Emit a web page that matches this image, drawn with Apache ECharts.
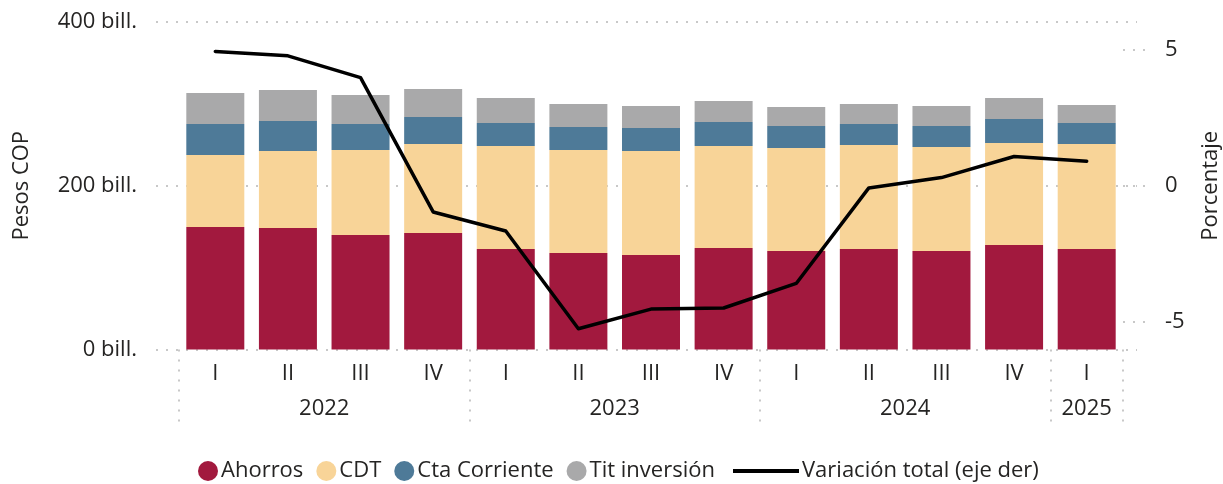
<!DOCTYPE html>
<html>
<head>
<meta charset="utf-8">
<script src="https://cdn.jsdelivr.net/npm/echarts@6/dist/echarts.min.js"></script>
<style>
html,body{margin:0;padding:0;background:#fff;}
#chart{width:1223px;height:484px;}
</style>
</head>
<body>
<div id="chart"></div>
<script>
var quarters = ['I','II','III','IV','I','II','III','IV','I','II','III','IV','I'];
var years = ['2022','2023','2024','2025'];
var ahorros = [149.6,148.4,139.9,142.3,122.8,117.9,115.4,124.0,120.3,122.8,120.3,127.6,122.8];
var cdt = [88.0,94.1,103.8,108.7,125.8,125.8,127.0,124.6,125.8,127.0,127.0,124.6,128.2];
var ctaCorriente = [37.8,36.6,31.7,33.0,28.1,28.1,28.1,29.3,26.9,25.6,25.7,29.3,25.7];
var titInversion = [37.9,37.9,35.4,34.2,30.5,28.1,26.9,25.6,23.2,24.5,24.4,25.7,21.9];
var variacion = [4.92,4.76,3.96,-0.96,-1.66,-5.24,-4.52,-4.48,-3.58,-0.08,0.30,1.07,0.90];

var FONT = '"Open Sans", "Noto Sans", sans-serif';
var FS = 22;
var TXT = '#252423';
var DOT = {color:'#c8c8c8', width:2, type:[2,8]};
var yearCenters = [2, 6, 10, 12.5];
var yearBounds = [0, 4, 8, 12, 13];

var chart = echarts.init(document.getElementById('chart'));
chart.setOption({
  animation: false,
  textStyle: {fontFamily: FONT, color: TXT},
  grid: [
    {left:179, right:100, top:22, bottom:134.5, containLabel:false, outerBoundsMode:'none'},
    {left:156, right:86, top:22, bottom:134.5, containLabel:false, outerBoundsMode:'none'}
  ],
  legend: [
    {
      data: ['Ahorros','CDT','Cta Corriente','Tit inversión'],
      left: 193, top: 455, icon: 'circle', itemWidth: 20, itemHeight: 20, itemGap: 13,
      textStyle: {fontFamily: FONT, fontSize: FS, color: TXT, padding:[0,0,0,-2]}
    },
    {
      data: [{name:'Variación total (eje der)', icon:'rect', itemStyle:{color:'#000'}}],
      left: 728, top: 455, itemWidth: 66, itemHeight: 4,
      textStyle: {fontFamily: FONT, fontSize: FS, color: TXT, padding:[0,0,0,-2]}
    }
  ],
  xAxis: [
    {
      type:'category', data: quarters, gridIndex:0,
      axisLine:{show:false, onZero:false}, axisTick:{show:false},
      axisLabel:{fontFamily:FONT, fontSize:FS, color:TXT, margin:13}
    },
    {
      type:'value', gridIndex:0, min:0, max:13, position:'bottom',
      axisLine:{show:false, onZero:false}, splitLine:{show:false},
      axisTick:{show:true, customValues: yearBounds, length:78, lineStyle:DOT},
      axisLabel:{fontFamily:FONT, fontSize:FS, color:TXT, margin:48,
        customValues: yearCenters,
        formatter:function(v){ var i = yearCenters.indexOf(v); return i>=0 ? years[i] : ''; }}
    },
    {type:'value', gridIndex:1, min:0, max:1, show:false}
  ],
  yAxis: [
    {
      type:'value', gridIndex:0, min:0, max:400, interval:200,
      name:'Pesos COP', nameLocation:'middle', nameGap:146, nameRotate:90,
      nameTextStyle:{fontFamily:FONT, fontSize:FS, color:TXT},
      axisLine:{show:false}, axisTick:{show:false}, splitLine:{show:false},
      axisLabel:{fontFamily:FONT, fontSize:FS, color:TXT, margin:42,
        formatter:function(v){return v + ' bill.';}}
    },
    {
      type:'value', gridIndex:0, min:-6, max:6, position:'right',
      name:'Porcentaje', nameLocation:'middle', nameGap:77, nameRotate:90,
      nameTextStyle:{fontFamily:FONT, fontSize:FS, color:TXT},
      axisLine:{show:false}, splitLine:{show:false},
      axisTick:{show:true, customValues:[-5,0,5], length:23, lineStyle:DOT},
      axisLabel:{fontFamily:FONT, fontSize:FS, color:TXT, margin:42, customValues:[-5,0,5]}
    },
    {
      type:'value', gridIndex:1, min:0, max:400, interval:200,
      axisLine:{show:false}, axisTick:{show:false}, axisLabel:{show:false},
      splitLine:{show:true, lineStyle:DOT}
    }
  ],
  series: [
    {name:'Ahorros', type:'bar', stack:'t', data:ahorros, barWidth:58, itemStyle:{color:'#a2193e'}},
    {name:'CDT', type:'bar', stack:'t', data:cdt, barWidth:58, itemStyle:{color:'#f8d498'}},
    {name:'Cta Corriente', type:'bar', stack:'t', data:ctaCorriente, barWidth:58, itemStyle:{color:'#4e7a98'}},
    {name:'Tit inversión', type:'bar', stack:'t', data:titInversion, barWidth:58, itemStyle:{color:'#a9a9aa'}},
    {name:'Variación total (eje der)', type:'line', yAxisIndex:1, data:variacion,
      symbol:'none', lineStyle:{color:'#000', width:3.5, cap:'round', join:'round'}, itemStyle:{color:'#000'}, z:5}
  ]
});
</script>
</body>
</html>
